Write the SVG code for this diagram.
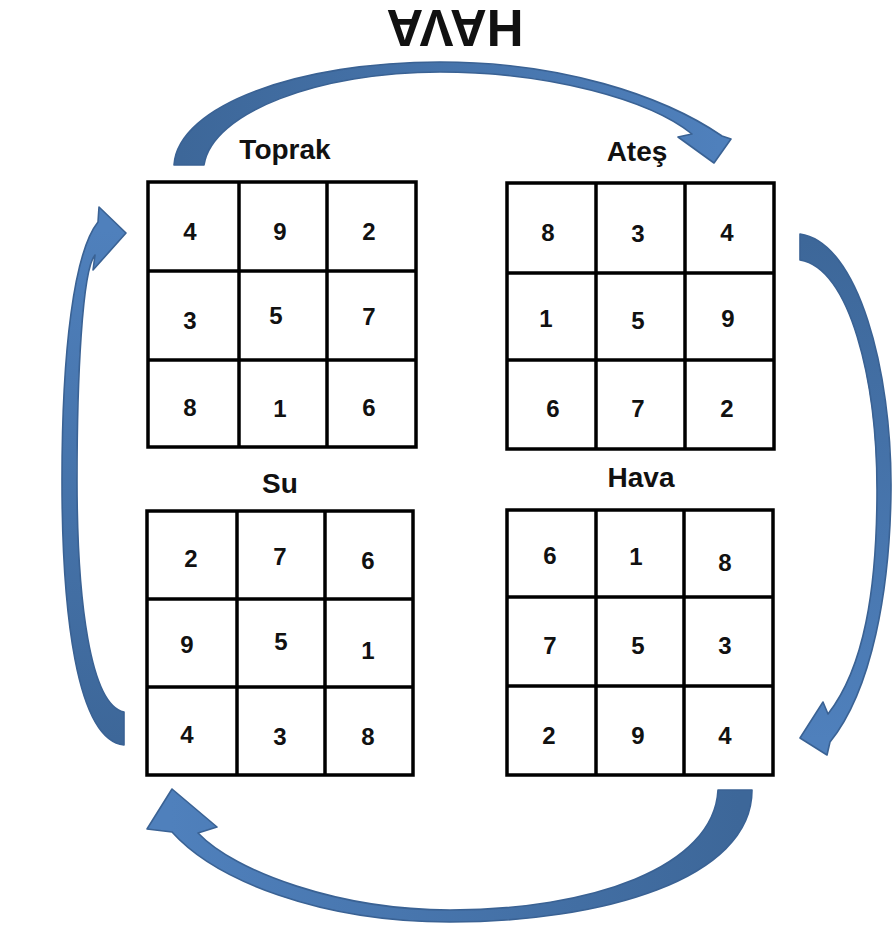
<svg xmlns="http://www.w3.org/2000/svg" width="894" height="926" viewBox="0 0 894 926">
<defs>
<style>
.g{fill:#ffffff;stroke:#000000;stroke-width:3.5}
.ln{stroke:#000000;stroke-width:3.5}
.n{font-family:"Liberation Sans",Arial,sans-serif;font-weight:bold;font-size:24px;fill:#111111;text-anchor:middle}
.lb{font-family:"Liberation Sans",Arial,sans-serif;font-weight:bold;font-size:28px;fill:#111111;text-anchor:middle}
.ar{stroke:#3a6294;stroke-width:1.6;stroke-linejoin:round}
</style>
<linearGradient id="gTop" gradientUnits="userSpaceOnUse" x1="180" y1="160" x2="720" y2="150"><stop offset="0" stop-color="#3d6799"/><stop offset="1" stop-color="#4f80bc"/></linearGradient>
<linearGradient id="gRight" gradientUnits="userSpaceOnUse" x1="800" y1="240" x2="805" y2="740"><stop offset="0" stop-color="#3d6799"/><stop offset="1" stop-color="#4f80bc"/></linearGradient>
<linearGradient id="gBot" gradientUnits="userSpaceOnUse" x1="740" y1="795" x2="170" y2="800"><stop offset="0" stop-color="#3d6799"/><stop offset="1" stop-color="#4f80bc"/></linearGradient>
<linearGradient id="gLeft" gradientUnits="userSpaceOnUse" x1="120" y1="740" x2="120" y2="230"><stop offset="0" stop-color="#3d6799"/><stop offset="1" stop-color="#4f80bc"/></linearGradient>
</defs>
<rect width="894" height="926" fill="#ffffff"/>

<g id="title">
<text transform="translate(455,28) rotate(180)" x="0" y="18" font-family="'Liberation Sans',Arial,sans-serif" font-weight="bold" font-size="51" text-anchor="middle" fill="#111111">HAVA</text>
</g>

<g id="connectors">
<path class="ar" fill="url(#gTop)" d="M 174 165 C 178 105 300 62 440 62 C 560 62 662 95 722 136 L 731 139 L 714 163 L 678 137 L 692 134 C 650 100 550 72 440 72 C 320 72 212 112 204 165 Z"/>
<path class="ar" fill="url(#gRight)" d="M 800 234 C 858 242 892 370 891 490 C 890 590 872 690 830 742 L 827 755 L 800 738 L 823 702 L 828 714 C 864 668 877 590 877 490 C 877 380 850 268 800 260 Z"/>
<path class="ar" fill="url(#gBot)" d="M 752 790 C 752 880 600 922 450 922 C 320 922 215 880 172 832 L 147 829 L 172 789 L 217 827 L 198 833 C 235 872 340 910 450 910 C 590 910 714 868 718 790 Z"/>
<path class="ar" fill="url(#gLeft)" d="M 124 745 C 76 740 62 610 62 480 C 62 350 74 252 98 222 L 99 207 L 126 233 L 93 270 L 95 255 C 82 270 77 380 77 480 C 77 600 90 705 124 712 Z"/>
</g>

<g id="node-toprak">
<text class="lb" x="285" y="159">Toprak</text>
<rect class="g" x="148" y="182" width="268" height="265"/>
<line class="ln" x1="239" y1="182" x2="239" y2="447"/>
<line class="ln" x1="327" y1="182" x2="327" y2="447"/>
<line class="ln" x1="148" y1="271" x2="416" y2="271"/>
<line class="ln" x1="148" y1="360" x2="416" y2="360"/>
<text class="n" x="190" y="240">4</text><text class="n" x="280" y="240">9</text><text class="n" x="369" y="240">2</text>
<text class="n" x="190" y="329">3</text><text class="n" x="276" y="324">5</text><text class="n" x="369" y="325">7</text>
<text class="n" x="190" y="416">8</text><text class="n" x="280" y="417">1</text><text class="n" x="369" y="416">6</text>
</g>

<g id="node-ates">
<text class="lb" x="637" y="161">Ateş</text>
<rect class="g" x="507" y="183" width="267" height="266"/>
<line class="ln" x1="596" y1="183" x2="596" y2="449"/>
<line class="ln" x1="685" y1="183" x2="685" y2="449"/>
<line class="ln" x1="507" y1="273" x2="774" y2="273"/>
<line class="ln" x1="507" y1="360" x2="774" y2="360"/>
<text class="n" x="548" y="241">8</text><text class="n" x="638" y="242">3</text><text class="n" x="727" y="241">4</text>
<text class="n" x="546" y="327">1</text><text class="n" x="638" y="329">5</text><text class="n" x="728" y="327">9</text>
<text class="n" x="553" y="417">6</text><text class="n" x="638" y="417">7</text><text class="n" x="727" y="417">2</text>
</g>

<g id="node-su">
<text class="lb" x="280" y="493">Su</text>
<rect class="g" x="147" y="511" width="266" height="264"/>
<line class="ln" x1="237" y1="511" x2="237" y2="775"/>
<line class="ln" x1="325" y1="511" x2="325" y2="775"/>
<line class="ln" x1="147" y1="599" x2="413" y2="599"/>
<line class="ln" x1="147" y1="687" x2="413" y2="687"/>
<text class="n" x="191" y="567">2</text><text class="n" x="280" y="565">7</text><text class="n" x="368" y="569">6</text>
<text class="n" x="187" y="653">9</text><text class="n" x="281" y="650">5</text><text class="n" x="368" y="659">1</text>
<text class="n" x="187" y="743">4</text><text class="n" x="280" y="745">3</text><text class="n" x="368" y="745">8</text>
</g>

<g id="node-hava">
<text class="lb" x="641" y="487">Hava</text>
<rect class="g" x="507" y="510" width="266" height="265"/>
<line class="ln" x1="596" y1="510" x2="596" y2="775"/>
<line class="ln" x1="684" y1="510" x2="684" y2="775"/>
<line class="ln" x1="507" y1="597" x2="773" y2="597"/>
<line class="ln" x1="507" y1="686" x2="773" y2="686"/>
<text class="n" x="550" y="564">6</text><text class="n" x="636" y="565">1</text><text class="n" x="725" y="571">8</text>
<text class="n" x="550" y="654">7</text><text class="n" x="638" y="654">5</text><text class="n" x="725" y="654">3</text>
<text class="n" x="549" y="744">2</text><text class="n" x="638" y="744">9</text><text class="n" x="725" y="744">4</text>
</g>
</svg>
